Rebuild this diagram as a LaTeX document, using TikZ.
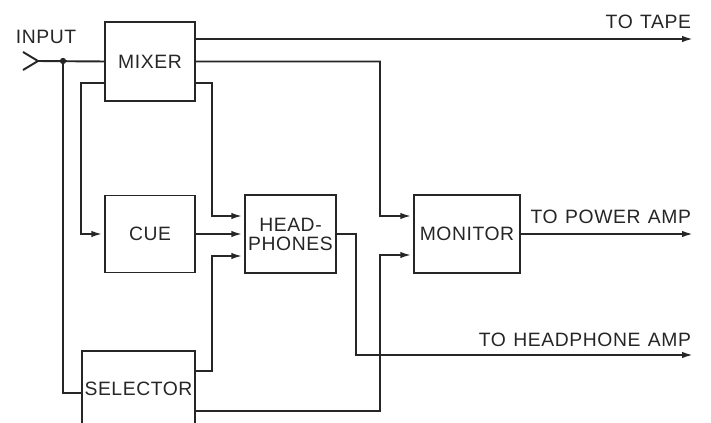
\documentclass[tikz,border=0pt]{standalone}
\usepackage{fontspec}
\setmainfont[LetterSpace=3,WordSpace=1.25]{Liberation Sans}
\usetikzlibrary{arrows.meta,positioning}

\begin{document}
\begin{tikzpicture}[x=1cm,y=1cm,>={Latex[length=2.2mm,width=1.3mm]},line width=1.1pt,
 font=\fontsize{11}{10.8}\selectfont,draw=black!85,text=black!85,
 block/.style={draw=black!85,align=center,inner sep=0pt},
 feed/.style={->,shorten >=1pt},
 outlbl/.style={anchor=east,inner sep=0pt}]
\clip (0,0) rectangle (14.22,-8.46);
\node[block,minimum width=1.8cm,minimum height=1.58cm] (mixer) at (3.0,-1.23) {MIXER};
\node[block,minimum width=1.8cm,minimum height=1.54cm] (cue) at (3.0,-4.68) {CUE};
\node[block,minimum width=1.82cm,minimum height=1.56cm] (phones) at (5.81,-4.68) {HEAD-\\PHONES};
\node[block,minimum width=2.12cm,minimum height=1.56cm] (monitor) at (9.34,-4.68) {MONITOR};
\node[block,minimum width=2.26cm,minimum height=1.52cm] (selector) at (2.77,-7.78) {SELECTOR};

\node[inner sep=0pt] (inlbl) at (0.92,-0.74) {INPUT};
\node[outlbl] (tapelbl) at (13.84,-0.44) {TO TAPE};
\node[outlbl] (powerlbl) at (13.84,-4.34) {TO POWER AMP};
\node[outlbl] (hpamplbl) at (13.84,-6.8) {TO HEADPHONE AMP};

\coordinate (jack) at (0.76,-1.22);
\coordinate (tap) at (1.26,-1.22);
\coordinate (tape) at (13.86,-0.78);
\coordinate (power) at (13.86,-4.68);
\coordinate (hpamp) at (13.86,-7.1);

% input jack and split
\draw (0.46,-1.04) -- (jack) -- (0.46,-1.40);
\draw (jack) -- (mixer.west);
\fill[black!85] (tap) circle (1.8pt);
\draw (tap) |- ([yshift=-0.08cm]selector.west);

% mixer outputs
\draw[->] ([yshift=0.45cm]mixer.east) -- (tape);
\draw[feed] (mixer.east) -| (7.6,-4.32) -- ([yshift=0.36cm]monitor.west);
\draw[feed] ([yshift=-0.43cm]mixer.west) -| (1.62,-4.68) -- (cue.west);
\draw[feed] ([yshift=-0.43cm]mixer.east) -| (4.24,-4.32) -- ([yshift=0.36cm]phones.west);

% headphone feeds
\draw[feed] (cue.east) -- (phones.west);
\draw[feed] ([yshift=0.36cm]selector.east) -| (4.24,-5.12) -- ([yshift=-0.44cm]phones.west);
\draw[->] (phones.east) -| (7.12,-7.1) -- (hpamp);

% monitor
\draw[feed] ([yshift=-0.44cm]selector.east) -| (7.6,-5.1) -- ([yshift=-0.42cm]monitor.west);
\draw[->] (monitor.east) -- (power);
\end{tikzpicture}
\end{document}
